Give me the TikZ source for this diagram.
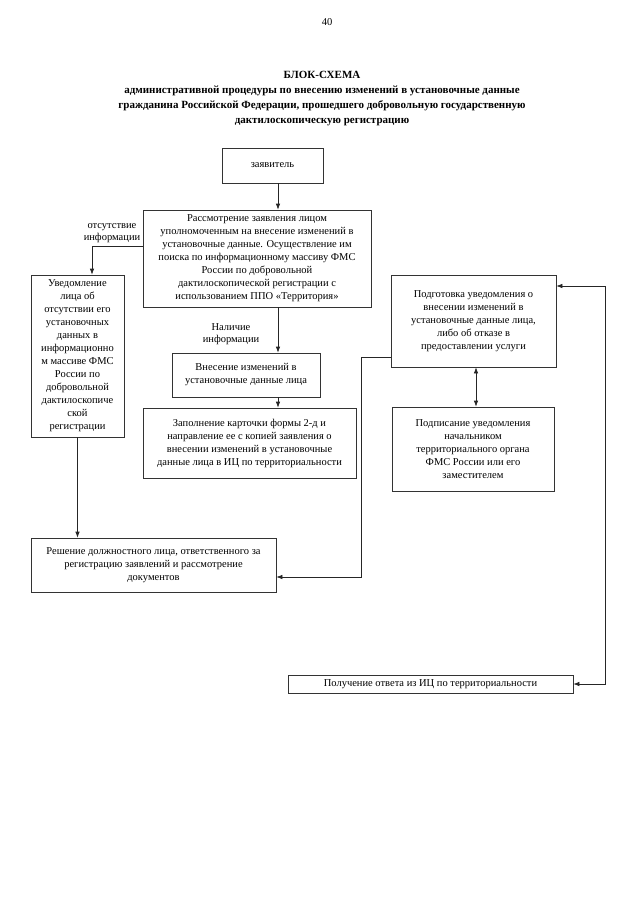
\documentclass[tikz,border=0pt]{standalone}
\usepackage{fontspec}
\setmainfont{Liberation Serif}
\usepackage{tikz}
\usetikzlibrary{arrows.meta,positioning,calc}

\begin{document}
\begin{tikzpicture}[x=1pt,y=-1pt,
    box/.style={draw=black!80, line width=0.7pt, align=center, inner sep=1pt,
      font=\fontsize{10.5}{13}\selectfont},
    lbl/.style={align=center, font=\fontsize{10.5}{12.5}\selectfont},
    arr/.style={draw=black!85, line width=0.7pt, -{Latex[length=6pt,width=4.5pt]}},
    darr/.style={draw=black!85, line width=0.7pt, {Latex[length=6pt,width=4.5pt]}-{Latex[length=6pt,width=4.5pt]}}]
  \useasboundingbox (0,0) rectangle (640,905);
  \node[lbl] (pagenum) at (327,22) {40};
  \node[align=center, font=\bfseries\fontsize{11}{15}\selectfont] (title) at (322,98.5)
    {БЛОК-СХЕМА\\
     административной процедуры по внесению изменений в установочные данные\\
     гражданина Российской Федерации, прошедшего добровольную государственную\\
     дактилоскопическую регистрацию};
  \node[box, minimum width=101, minimum height=35] (zayav) at (272.5,165.5) {заявитель};
  \node[box, minimum width=228, minimum height=97] (rassm) at (257,258.5)
    {Рассмотрение заявления лицом\\ уполномоченным на внесение изменений в\\
     установочные данные. Осуществление им\\ поиска по информационному массиву ФМС\\
     России по добровольной\\ дактилоскопической регистрации с\\
     использованием ППО «Территория»};
  \node[box, minimum width=93, minimum height=162] (uved) at (77.5,356)
    {Уведомление\\ лица об\\ отсутствии его\\ установочных\\ данных в\\ информационно\\
     м массиве ФМС\\ России по\\ добровольной\\ дактилоскопиче\\ ской\\ регистрации};
  \node[box, minimum width=148, minimum height=44] (vnes) at (246,375)
    {Внесение изменений в\\ установочные данные лица};
  \node[box, minimum width=213, minimum height=70] (zapoln) at (249.5,443)
    {Заполнение карточки формы 2-д и\\ направление ее с копией заявления о\\
     внесении изменений в установочные\\ данные лица в ИЦ по территориальности};
  \node[box, minimum width=165, minimum height=92] (podgot) at (473.5,321)
    {Подготовка уведомления о\\ внесении изменений в\\ установочные данные лица,\\
     либо об отказе в\\ предоставлении услуги};
  \node[box, minimum width=162, minimum height=84] (podpis) at (473,449)
    {Подписание уведомления\\ начальником\\ территориального органа\\
     ФМС России или его\\ заместителем};
  \node[box, minimum width=245, minimum height=54] (reshen) at (153.5,565)
    {Решение должностного лица, ответственного за\\ регистрацию заявлений и рассмотрение\\ документов};
  \node[box, minimum width=285, minimum height=18] (poluch) at (430.5,684)
    {Получение ответа из ИЦ по территориальности};
  \node[lbl] (absentlbl) at (112,233) {отсутствие\\ информации};
  \node[lbl] (presentlbl) at (231,334) {Наличие\\ информации};

  \coordinate (mid) at (278,0);
  \coordinate (absent) at (92,246);
  \coordinate (right) at (605,286);
  \coordinate (back) at (361,357);
  \coordinate (backlow) at (361,577);

  \draw[arr] (zayav.south -| mid) -- (rassm.north -| mid);
  \draw[arr] (rassm.west |- absent) -- (absent) -- (absent |- uved.north);
  \draw[arr] (rassm.south -| mid) -- (vnes.north -| mid);
  \draw[arr] (vnes.south -| mid) -- (zapoln.north -| mid);
  \draw[arr] (uved.south) -- (reshen.north -| uved.south);
  \draw[darr] ([xshift=2.5pt]podgot.south) -- ([xshift=2.5pt]podgot.south |- podpis.north);
  \draw[darr] (podgot.east |- right) -- (right) -- (right |- poluch.east) -- (poluch.east);
  \draw[arr] (podgot.west |- back) -- (back) -- (backlow) -- (reshen.east |- backlow);
\end{tikzpicture}
\end{document}
